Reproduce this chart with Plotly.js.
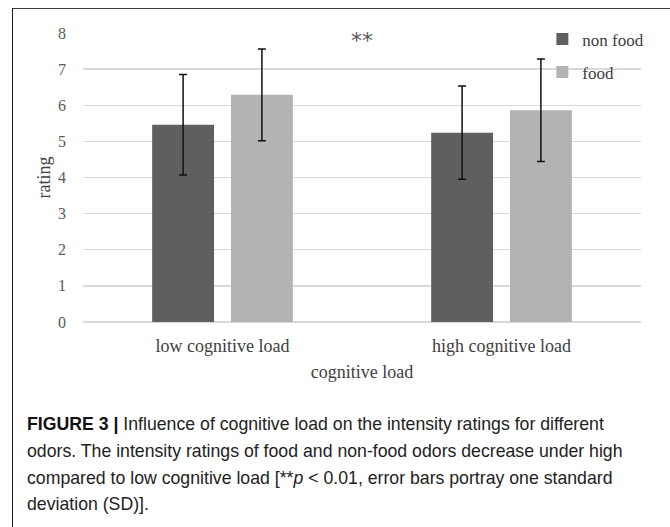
<!DOCTYPE html>
<html>
<head>
<meta charset="utf-8">
<script src="https://cdn.plot.ly/plotly-3.0.1.min.js"></script>
<style>
  html, body { margin: 0; padding: 0; background: #fff; }
  #wrap { position: relative; width: 670px; height: 527px; overflow: hidden; }
  #chart { position: absolute; left: 0; top: 0; width: 670px; height: 527px; }
  #frame { position: absolute; left: 12px; top: 8px; width: 700px; height: 560px;
           border-top: 1.5px solid #3a3a3a; border-left: 1.5px solid #1a1a1a; pointer-events: none; }
  #caption { position: absolute; left: 27px; top: 411px; width: 640px;
             font-family: "Liberation Sans", Arial, sans-serif; font-size: 17.7px;
             line-height: 26.8px; color: #222; white-space: nowrap; }
  #caption b { color: #111; }
</style>
</head>
<body>
<div id="wrap">
  <div id="chart"></div>
  <div id="frame"></div>
  <div id="caption"><b>FIGURE 3 |</b> Influence of cognitive load on the intensity ratings for different<br>odors. The intensity ratings of food and non-food odors decrease under high<br>compared to low cognitive load [**<i>p</i> &lt; 0.01, error bars portray one standard<br>deviation (SD)].</div>
</div>
<script>
const categories = ["low cognitive load", "high cognitive load"];
const seriesNames = ["non food", "food"];
const nonFoodMean = [5.46, 5.24];
const nonFoodSD = [1.39, 1.29];
const foodMean = [6.29, 5.86];
const foodSD = [1.27, 1.42];
const yTicks = [0, 1, 2, 3, 4, 5, 6, 7, 8];
const sigLabel = "**";

const serif = '"Liberation Serif", "DejaVu Serif", serif';

const traces = [
  {
    type: "bar", name: seriesNames[0], x: categories, y: nonFoodMean,
    legendgroup: "a",
    marker: { color: "#5f5f5f" },
    error_y: { type: "data", array: nonFoodSD, visible: true, color: "#111", thickness: 1.5, width: 4 }
  },
  {
    type: "bar", name: seriesNames[1], x: categories, y: foodMean,
    legendgroup: "b",
    marker: { color: "#b3b3b3" },
    error_y: { type: "data", array: foodSD, visible: true, color: "#111", thickness: 1.5, width: 4 }
  }
];

const layout = {
  width: 670, height: 527,
  margin: { l: 83, r: 29, t: 33, b: 205 },
  paper_bgcolor: "rgba(0,0,0,0)",
  plot_bgcolor: "rgba(0,0,0,0)",
  barmode: "group",
  bargap: 0.435,
  bargroupgap: 0.215,
  font: { family: serif, size: 17, color: "#595959" },
  xaxis: {
    type: "category",
    showgrid: false, showline: false, zeroline: false, ticks: "",
    ticklabelstandoff: 11,
    tickfont: { family: serif, size: 18, color: "#404040" },
    title: { text: "cognitive load", font: { family: serif, size: 18, color: "#404040" }, standoff: 10 }
  },
  yaxis: {
    range: [0, 8], tickvals: yTicks, ticktext: yTicks.map(String),
    showgrid: true, gridcolor: "#d9d9d9", gridwidth: 1.3,
    zeroline: true, zerolinecolor: "#d9d9d9", zerolinewidth: 1.3,
    showline: false, ticks: "", ticklabelstandoff: 16,
    tickfont: { family: serif, size: 16, color: "#595959" },
    title: { text: "rating", font: { family: serif, size: 18, color: "#404040" }, standoff: 2 }
  },
  legend: {
    x: 1.015, xanchor: "right", y: 1.04, yanchor: "top",
    bgcolor: "rgba(255,255,255,0)",
    font: { family: serif, size: 17, color: "#404040" },
    traceorder: "grouped", tracegroupgap: 8,
    itemwidth: 30
  },
  annotations: [
    { text: sigLabel, xref: "paper", x: 0.5, yref: "y", y: 7.8, showarrow: false,
      font: { family: '"DejaVu Sans", sans-serif', size: 22, color: "#555" } }
  ],
  showlegend: true
};

Plotly.newPlot("chart", traces, layout, { displayModeBar: false, staticPlot: true });
</script>
</body>
</html>
